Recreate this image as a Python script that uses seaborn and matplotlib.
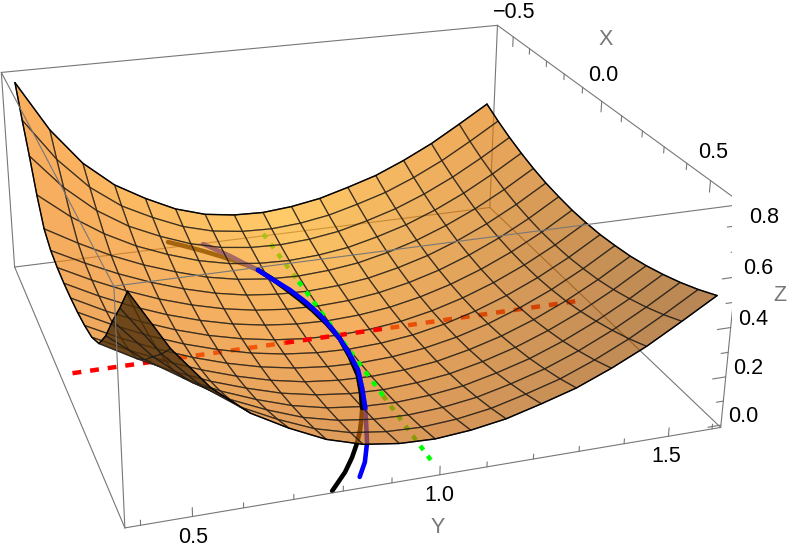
import numpy as np
import seaborn as sns
import matplotlib
matplotlib.use("Agg")
import matplotlib.pyplot as plt
from mpl_toolkits.mplot3d import proj3d

x_lim = (-0.6, 0.63)
y_lim = (0.37, 1.62)
z_lim = (-0.01, 0.88)

# mesh nodes, surface is mirrored in x
x_half = [0.0, 0.075, 0.15, 0.225, 0.3, 0.375, 0.45, 0.525, 0.6]
y_grid = [0.4, 0.475, 0.55, 0.625, 0.7, 0.775, 0.85, 0.925, 1.0, 1.075, 1.15, 1.225, 1.3, 1.375, 1.45, 1.525, 1.6]
z_half = [
    [0.32, 0.322, 0.33, 0.346, 0.385, 0.48, 0.60, 0.71, 0.83],
    [0.245, 0.248, 0.257, 0.273, 0.304, 0.366, 0.444, 0.52, 0.605],
    [0.18, 0.183, 0.192, 0.207, 0.231, 0.273, 0.323, 0.377, 0.437],
    [0.125, 0.128, 0.136, 0.15, 0.17, 0.199, 0.234, 0.274, 0.32],
    [0.08, 0.083, 0.09, 0.102, 0.12, 0.142, 0.17, 0.203, 0.24],
    [0.045, 0.047, 0.053, 0.063, 0.077, 0.095, 0.117, 0.143, 0.173],
    [0.02, 0.022, 0.027, 0.035, 0.048, 0.063, 0.082, 0.104, 0.13],
    [0.005, 0.007, 0.012, 0.02, 0.031, 0.046, 0.064, 0.085, 0.11],
    [0.0, 0.002, 0.007, 0.015, 0.026, 0.041, 0.059, 0.08, 0.105],
    [0.006, 0.008, 0.013, 0.022, 0.034, 0.049, 0.068, 0.09, 0.117],
    [0.022, 0.024, 0.03, 0.038, 0.051, 0.067, 0.088, 0.112, 0.14],
    [0.05, 0.052, 0.058, 0.068, 0.082, 0.1, 0.122, 0.148, 0.178],
    [0.089, 0.091, 0.097, 0.107, 0.122, 0.14, 0.163, 0.189, 0.22],
    [0.139, 0.141, 0.148, 0.158, 0.174, 0.193, 0.217, 0.245, 0.278],
    [0.2, 0.202, 0.209, 0.22, 0.236, 0.257, 0.282, 0.311, 0.345],
    [0.272, 0.274, 0.282, 0.293, 0.31, 0.332, 0.358, 0.389, 0.425],
    [0.355, 0.357, 0.365, 0.376, 0.393, 0.415, 0.441, 0.472, 0.508],
]

x_major = [-0.5, 0.0, 0.5]
y_major = [0.5, 1.0, 1.5]
z_major = [0.0, 0.2, 0.4, 0.6, 0.8]
x_minor = [-0.4, -0.3, -0.2, -0.1, 0.1, 0.2, 0.3, 0.4, 0.6]
y_minor = [0.4, 0.6, 0.7, 0.8, 0.9, 1.1, 1.2, 1.3, 1.4, 1.6]
z_minor = [0.1, 0.3, 0.5, 0.7]

black_x = [-0.585, -0.55, -0.506, -0.465, -0.425, -0.39, -0.358, -0.3, -0.241, -0.175, -0.107, -0.03, 0.05,
           0.14, 0.225, 0.3, 0.366, 0.41, 0.451, 0.499, 0.55, 0.599, 0.658]
black_y = [0.75, 0.782, 0.819, 0.85, 0.878, 0.9, 0.916, 0.934, 0.948, 0.962, 0.974, 0.983, 0.987,
           0.98, 0.969, 0.95, 0.93, 0.913, 0.896, 0.873, 0.845, 0.814, 0.768]
blue_x = [-0.547, -0.5, -0.457, -0.41, -0.358, -0.29, -0.227, -0.15, -0.078, -0.01, 0.05,
          0.125, 0.203, 0.285, 0.368, 0.44, 0.505, 0.575, 0.625]
blue_y = [0.83, 0.853, 0.874, 0.893, 0.916, 0.936, 0.956, 0.972, 0.982, 0.986, 0.987,
          0.984, 0.977, 0.958, 0.936, 0.913, 0.892, 0.863, 0.835]
curve_z = 0.03
# the straight lines, cut where they pass through the surface
red_y = [0.395, 0.875, 1.125, 1.6]
green_x = [-0.6, -0.3, 0.3, 0.6]

sns.set_theme(style="white")
plt.rcParams["font.family"] = ["Liberation Sans", "DejaVu Sans"]

fig = plt.figure(figsize=(7.93, 5.59), dpi=100)
scale = 4365.52
side = scale * 0.185
left = 338.99 - scale * 0.095
bottom = 559 - 239.07 - scale * 0.095
ax = fig.add_axes([left / 793, bottom / 559, side / 793, side / 559], projection="3d", computed_zorder=False)
ax.set_xlim(*x_lim, view_margin=0)
ax.set_ylim(*y_lim, view_margin=0)
ax.set_zlim(*z_lim, view_margin=0)
ax.view_init(23.6024, -18.5901, -0.4122)
ax.set_proj_type("persp", focal_length=0.4323)
ax.set_box_aspect((1, 1.0133, 0.4035))
ax.set_axis_off()
M = ax.get_proj()

half = np.array(x_half)
X, Y = np.meshgrid(np.r_[-half[:0:-1], half], y_grid)
Z = np.hstack([np.array(z_half)[:, :0:-1], np.array(z_half)])

# colours as seen on white, then undone for the surface opacity
opacity = 0.67
seen = np.array([
    [[250, 175, 95], [240, 170, 95], [235, 165, 95]],
    [[255, 202, 104], [243, 172, 95], [212, 149, 88]],
    [[235, 165, 90], [200, 145, 85], [178, 132, 85]],
], float)
u = np.linspace(0, 2, 17)
i0 = np.minimum(u.astype(int), 1)
f = u - i0
rgb = np.zeros((17, 17, 4))
for r in range(17):
    for c in range(17):
        a, b = i0[r], i0[c]
        col = (seen[a, b] * (1 - f[r]) * (1 - f[c]) + seen[a + 1, b] * f[r] * (1 - f[c])
               + seen[a, b + 1] * (1 - f[r]) * f[c] + seen[a + 1, b + 1] * f[r] * f[c])
        rgb[r, c, :3] = np.clip((col - 255 * (1 - opacity)) / opacity, 0, 255) / 255
rgb[..., 3] = opacity

# underside cells are darker
pu, pv, _ = proj3d.proj_transform(X.ravel(), Y.ravel(), Z.ravel(), M)
pu, pv = pu.reshape(X.shape), pv.reshape(X.shape)
area = ((pu[1:, 1:] - pu[:-1, :-1]) * (pv[1:, :-1] - pv[:-1, 1:])
        - (pu[1:, :-1] - pu[:-1, 1:]) * (pv[1:, 1:] - pv[:-1, :-1]))
rgb[:-1, :-1][area * np.sign(area[8, 8]) < 0] = (0.30, 0.18, 0.04, 0.8)


def edge(p, q, z=1, lw=0.8, c="#777777"):
    ax.plot([p[0], q[0]], [p[1], q[1]], [p[2], q[2]], color=c, lw=lw, zorder=z)


def label(x, y, z, s, c="black"):
    lu, lv, _ = proj3d.proj_transform(x, y, z, M)
    ax.text2D(lu, lv, s, transform=ax.transData, fontsize=15.5, color=c, ha="center", va="center")


xa, xb = x_lim
ya, yb = y_lim
za, zb = z_lim
for p, q in [((xa, ya, za), (xa, yb, za)), ((xa, yb, za), (xb, yb, za)), ((xa, ya, za), (xb, ya, za)),
             ((xa, yb, za), (xa, yb, zb)), ((xa, ya, za), (xa, ya, zb))]:
    edge(p, q, z=1)
for p, q in [((xa, ya, zb), (xa, yb, zb)), ((xa, yb, zb), (xb, yb, zb)), ((xa, ya, zb), (xb, ya, zb)),
             ((xb, ya, zb), (xb, yb, zb)), ((xb, ya, za), (xb, ya, zb)), ((xb, yb, za), (xb, yb, zb)),
             ((xb, ya, za), (xb, yb, za))]:
    edge(p, q, z=5)

red = dict(color="#ff0000", lw=3.2, linestyle=(0, (2.0, 2.0)), dash_capstyle="butt")
green = dict(color="#00ff00", lw=3.2, linestyle=(0, (1.2, 1.6)), dash_capstyle="butt")
solid = dict(lw=3.3, solid_capstyle="round")
ax.plot([0, 0], red_y[:2], [0, 0], zorder=2, **red)
ax.plot([0, 0], red_y[2:], [0, 0], zorder=2, **red)
ax.plot(green_x[:2], [1, 1], [0, 0], zorder=2, **green)
ax.plot(green_x[2:], [1, 1], [0, 0], zorder=2, **green)
ax.plot(black_x, black_y, curve_z, color="black", zorder=2, **solid)
ax.plot(blue_x, blue_y, curve_z, color="#0000ff", zorder=2.1, **solid)

ax.plot_surface(X, Y, Z, rstride=1, cstride=1, facecolors=rgb, shade=False,
                edgecolor=(0.1, 0.1, 0.1, 0.7), linewidth=0.9, zorder=3)
for xs, ys, zs in [(X[0], Y[0], Z[0]), (X[-1], Y[-1], Z[-1]), (X[:, 0], Y[:, 0], Z[:, 0]), (X[:, -1], Y[:, -1], Z[:, -1])]:
    ax.plot(xs, ys, zs, color="black", lw=1.0, zorder=4)

ax.plot([0, 0], red_y[1:3], [0, 0], zorder=6, **red)
ax.plot(green_x[1:3], [1, 1], [0, 0], zorder=6, **green)
ax.plot(black_x[6:17], black_y[6:17], curve_z, color="black", zorder=6, **solid)
ax.plot(blue_x[4:15], blue_y[4:15], curve_z, color="#0000ff", zorder=6.1, **solid)

# ticks and labels
for v, ln in [(v, 0.045) for v in x_major] + [(v, 0.025) for v in x_minor]:
    edge((v, yb, zb), (v, yb, zb - ln), z=5)
for v, ln in [(v, 0.035) for v in y_major] + [(v, 0.02) for v in y_minor]:
    edge((xb, v, za), (xb, v, za + ln), z=5)
for v, ln in [(v, 0.03) for v in z_major] + [(v, 0.016) for v in z_minor]:
    edge((xb, yb, v), (xb, yb - ln, v), z=5)

for v in x_major:
    label(v, yb, zb + 0.11, f"{v:.1f}".replace("-", "\u2212"))
for v in y_major:
    label(xb, v, za - 0.085, f"{v:.1f}")
for v in z_major:
    label(xb, yb + 0.05, v + 0.02, f"{v:.1f}")
label(0, yb, zb + 0.26, "X", "#777777")
label(xb, 1.0, za - 0.215, "Y", "#777777")
label(xb, yb + 0.105, 0.5, "Z", "#777777")

fig.savefig("out.png", dpi=100)
